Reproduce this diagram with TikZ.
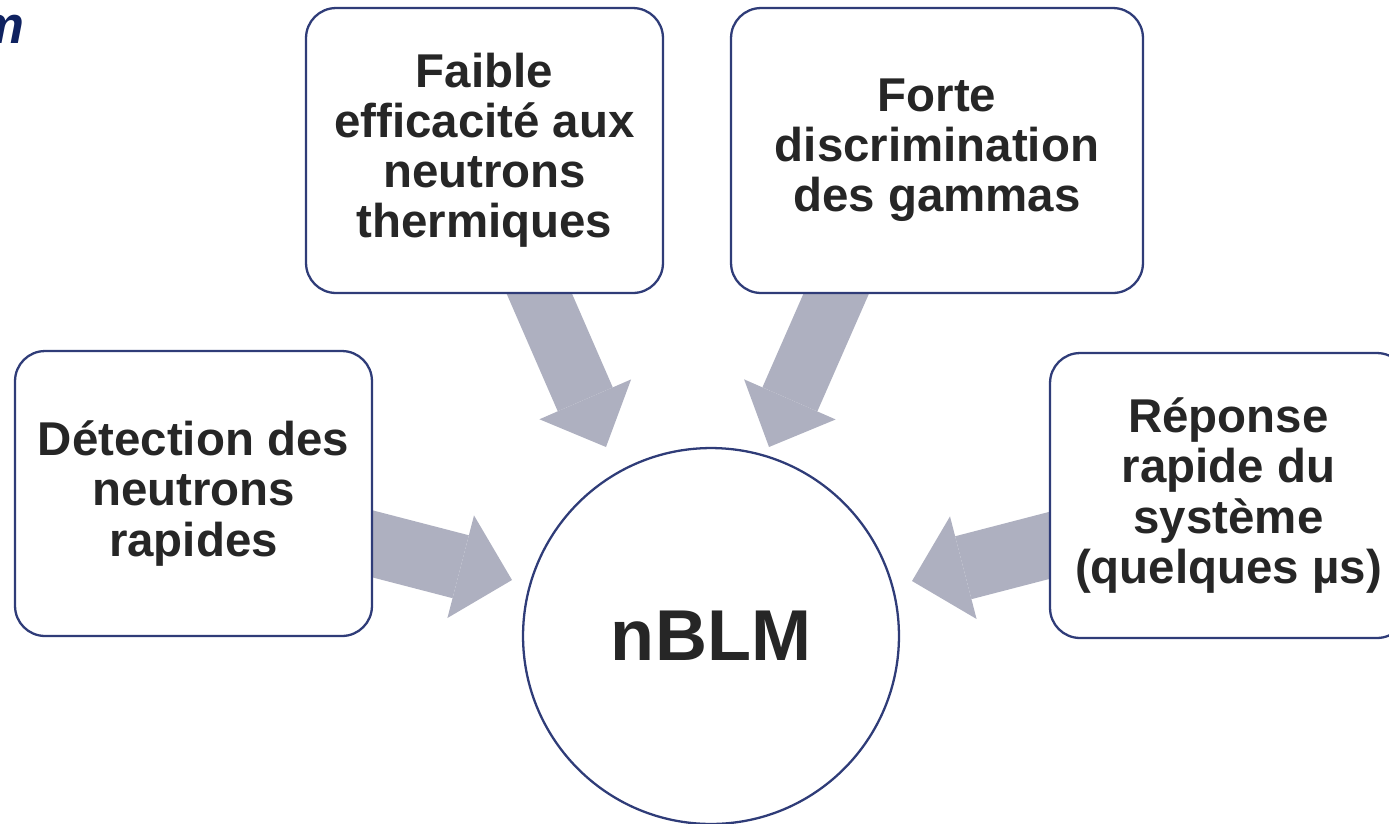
\documentclass[tikz,border=0pt]{standalone}
\usepackage{fontspec}
\setmainfont{Liberation Sans}
\usetikzlibrary{positioning, arrows.meta, backgrounds}

\definecolor{boxline}{RGB}{47,60,120}
\definecolor{arrowgray}{RGB}{174,176,192}
\definecolor{textgray}{RGB}{38,38,38}
\definecolor{titleblue}{RGB}{15,34,96}

\begin{document}
\begin{tikzpicture}
[x=0.02cm, y=-0.02cm,
 font=\bfseries\fontsize{27}{28.5}\selectfont,
 every node/.style={text=textgray},
 box/.style={draw=boxline, line width=1.3pt, fill=white,
 rounded corners=0.6cm, minimum width=7.14cm, minimum height=5.7cm, align=center},
 hub/.style={circle, draw=boxline, line width=1.3pt, fill=white,
 minimum size=7.52cm, font=\bfseries\fontsize{41}{41}\selectfont},
 bigarrow/.style={arrowgray, line width=1.2cm,
 -{Triangle[length=1.04cm, width=2cm, line width=0pt]}},
 sidearrow/.style={bigarrow, line width=1.3cm,
 -{Triangle[length=1.06cm, width=2.12cm, line width=0pt]}}
]
\useasboundingbox (0,0) rectangle (1389,823);

\node[hub] (nblm) at (711,636) {nBLM};
\node[box] (thermal) at (484.5,150.5) {Faible\\efficacité aux\\neutrons\\thermiques};
\node[box, minimum width=8.24cm] (gamma) at (937,150.5) {Forte\\discrimination\\des gammas};
\node[box] (fast) at (193.5,493.5) {Détection des\\neutrons\\rapides};
\node[box] (speed) at (1228.5,495.5) {Réponse\\rapide du\\système\\(quelques µs)};

\node[anchor=base east, inner sep=0pt, text=titleblue,
 font=\bfseries\itshape\fontsize{30}{30}\selectfont] (title) at (25,43) {m};

% block arrows behind the boxes
\begin{scope}[on background layer]
\draw[bigarrow, shorten <=-0.4cm] ([shift={(55,0)}]thermal.south) -- ([shift={(-105,-189)}]nblm.center);
\draw[bigarrow, shorten <=-0.4cm] ([shift={(-101,0)}]gamma.south) -- ([shift={(58,-189)}]nblm.center);
\draw[sidearrow, shorten <=-0.4cm] ([shift={(0,50.5)}]fast.east) -- ([shift={(-199,-56)}]nblm.center);
\draw[sidearrow, shorten <=-0.4cm] ([shift={(0,50)}]speed.west) -- ([shift={(201,-55)}]nblm.center);
\end{scope}
\end{tikzpicture}
\end{document}
